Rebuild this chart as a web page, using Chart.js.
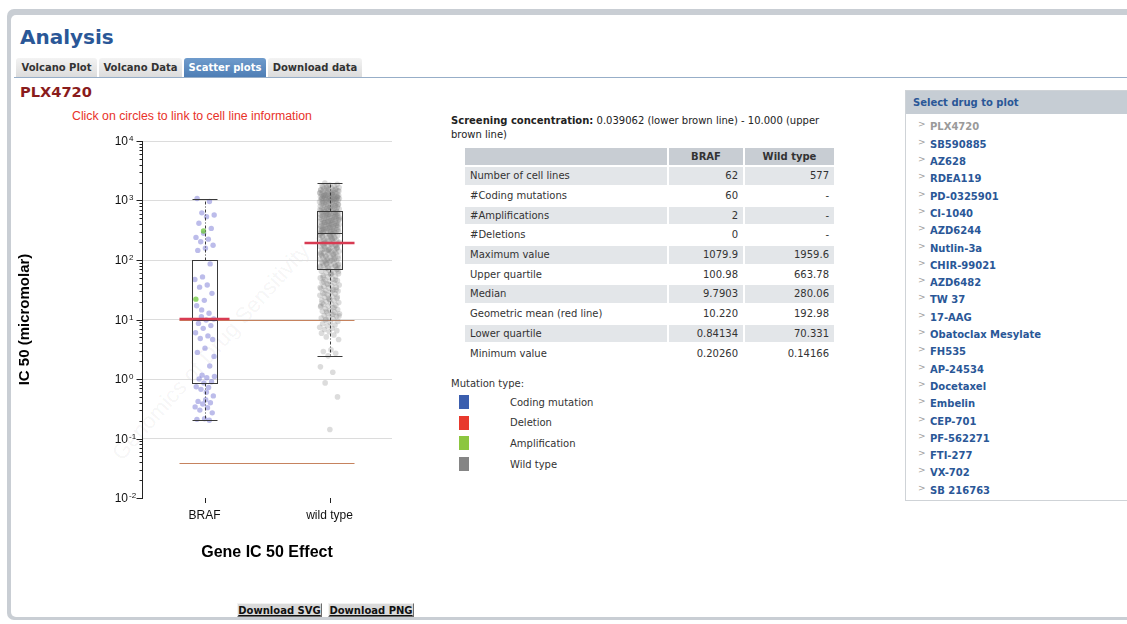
<!DOCTYPE html>
<html>
<head>
<meta charset="utf-8">
<title>PLX4720 - Scatter plots</title>
<script src="https://cdn.jsdelivr.net/npm/chart.js@4.4.1/dist/chart.umd.min.js"></script>
<style>
html,body{margin:0;padding:0;background:#fff;}
body{width:1127px;height:624px;overflow:hidden;position:relative;font-family:"DejaVu Sans",Verdana,sans-serif;color:#333;}
.a{position:absolute;white-space:nowrap;}
#frame{left:7px;top:9px;width:1160px;height:611px;background:#c9ced4;border-radius:7px;}
#panel{left:11px;top:15px;width:1160px;height:602px;background:#fff;border-radius:5px;}
#title{left:20px;top:25px;font-size:20px;line-height:24px;font-weight:bold;color:#2a5797;}
.tab{top:58px;height:19px;line-height:19px;font-size:10px;font-weight:bold;text-align:center;color:#333;background:linear-gradient(#f3f3f3,#dcdcdc);border-radius:3px 3px 0 0;}
.tab.on{background:linear-gradient(#6f9bcc,#4e7eb5);color:#fff;}
#tabline{left:14px;top:77px;width:1140px;height:1px;background:#97aec8;}
#drug{left:20px;top:83px;font-size:14.6px;line-height:18px;font-weight:bold;color:#8a1c1c;}
#hint{left:72px;top:109px;font-family:"Liberation Sans",Arial,sans-serif;font-size:12.3px;line-height:14px;color:#e8322a;}
#wm{left:211px;top:352px;transform:translate(-50%,-50%) rotate(-48deg);font-family:"Liberation Sans",Arial,sans-serif;font-size:22px;color:rgba(0,0,0,0.055);}
#chart{position:absolute;left:0;top:120px;width:440px;height:450px;}
#screen{left:451px;top:114px;width:372px;white-space:normal;font-size:10px;line-height:13.5px;color:#222;}
.cell{position:absolute;height:17.7px;line-height:17.7px;font-size:10px;color:#333;box-sizing:border-box;white-space:nowrap;overflow:hidden;}
.t{font-size:10px;line-height:13px;color:#333;}
.sq{position:absolute;width:10px;height:14px;}
#side{left:905px;top:90px;width:240px;height:409px;border:1px solid #cfd3d7;}
#sidehead{left:906px;top:91px;width:240px;height:23px;background:#c6cdd4;}
.drugitem{font-size:10px;line-height:13px;font-weight:bold;color:#2a5797;}
.chev{font-size:9px;line-height:13px;color:#a0a0a0;}
.btn{top:603px;height:14px;line-height:14px;font-size:10px;font-weight:bold;color:#111;text-decoration:underline;text-align:center;background:#dadada;box-sizing:border-box;border:1px solid;border-color:#f2f2f2 #6d6d6d #6d6d6d #f2f2f2;}
</style>
</head>
<body>
<div id="frame" class="a"></div>
<div id="panel" class="a"></div>
<div id="title" class="a">Analysis</div>
<div class="a tab" style="left:16px;width:81px;">Volcano Plot</div>
<div class="a tab" style="left:99px;width:83px;">Volcano Data</div>
<div class="a tab on" style="left:184px;width:82px;">Scatter plots</div>
<div class="a tab" style="left:268px;width:94px;">Download data</div>
<div id="tabline" class="a"></div>
<div id="drug" class="a">PLX4720</div>
<div id="hint" class="a">Click on circles to link to cell line information</div>
<div id="wm" class="a">Genomics of Drug Sensitivity</div>
<canvas id="chart" width="440" height="450"></canvas>

<div id="screen" class="a"><b>Screening concentration:</b> 0.039062 (lower brown line) - 10.000 (upper brown line)</div>
<div id="table"></div>

<div class="a t" style="left:451px;top:376.7px;">Mutation type:</div>
<div id="legend"></div>

<div id="side" class="a"></div>
<div id="sidehead" class="a"></div>
<div class="a drugitem" style="left:913px;top:95.7px;">Select drug to plot</div>
<div id="druglist"></div>

<div class="a btn" style="left:237px;width:85px;">Download SVG</div>
<div class="a btn" style="left:328px;width:86px;">Download PNG</div>

<script>
// ---------------- data ----------------
const CATEGORIES = ['BRAF', 'wild type'];

// BRAF: coding mutations (IC50, micromolar)
const BRAF_CODING = [1079.9, 960, 620, 570, 535, 415, 340, 282, 240, 224,
  203, 177, 158, 145, 86, 52, 47, 38, 35, 27.5,
  21, 17, 12.7, 11.1, 10.2, 9.8, 8.6, 7.9, 7.1, 6.0,
  5.3, 4.8, 4.6, 3.3, 2.8, 1.65, 1.16, 1.1, 1.05, 1.0,
  0.9, 0.86, 0.74, 0.72, 0.67, 0.52, 0.45, 0.42, 0.40, 0.38,
  0.34, 0.33, 0.30, 0.27, 0.215, 0.21, 0.2026, 14.5, 2.4, 0.6];
// BRAF: amplifications
const BRAF_AMPLIFICATION = [307, 22];

// wild type cell lines (estimated from the dense cloud)
const WILD_TYPE = [
  1959.6,1872,1815,1764,1742,1698,1655,1631,1587,1566,1549,1512,1487,1463,1452,1428,1396,1384,1361,1347,
  1322,1308,1297,1281,1266,1249,1238,1221,1204,1196,1183,1171,1158,1149,1137,1122,1114,1103,1096,1085,
  1077,1069,1058,1051,1044,1036,1029,1018,1011,1004,1702,1534,1415,1333,1257,1212,1166,1129,1091,1063,
  1616,1441,1289,1190,1047,1738,1502,1372,1245,1153,
  996,981,972,958,947,933,921,909,897,884,872,861,853,842,831,819,808,797,786,774,
  765,756,744,736,727,718,709,701,692,684,677,668,940,860,770,915,826,752,698,988,
  659,651,643,636,628,619,612,604,597,589,581,574,566,559,552,545,538,531,524,517,
  511,504,498,491,485,479,472,466,460,454,448,443,437,431,426,420,415,409,404,399,
  394,389,384,379,374,369,364,360,355,351,346,342,337,333,329,325,321,317,313,309,
  305,301,297,294,290,287,283,281,640,610,585,560,530,505,480,455,430,410,390,372,
  356,338,322,306,292,625,575,520,470,425,385,350,318,296,600,495,400,330,550,440,
  278,272,266,259,253,247,241,236,230,225,219,214,209,204,199,195,190,186,181,177,
  173,169,165,161,157,154,150,147,143,140,137,133,130,127,124,121,118,116,113,110,
  108,105,103,100,98,96,93,91,89,87,85,83,81,79,77,76,74,72,71,270,
  250,232,215,198,183,170,158,146,135,125,115,106,97,88,80,73,262,228,192,163,
  139,119,101,86,75,244,206,175,149,128,111,94,82,256,187,134,99,78,211,152,
  69,67,65,63,61,59,57,55,53,52,50,48,47,45,44,42,41,40,38,37,
  36,35,34,33,32,31,30,29,28,27,26,25.5,24.5,23.5,22.8,22,21.3,20.6,20,19.3,
  18.7,18,17.4,16.8,16.3,15.7,15.2,14.7,14.2,13.8,13.3,12.9,12.5,12.1,11.7,11.3,10.9,10.6,10.3,10.1,
  64,58,51,46,39,34.5,30.5,27.5,24,21.5,19,16,13.6,11.5,60,43,31.5,23,17,12.3,
  9.7,9.3,8.9,8.5,8.1,7.8,7.4,7.1,6.8,6.5,6.2,5.9,5.5,5.1,4.6,3.1,2.9,2.7,2.45,1.6,
  1.3,0.86,0.5,0.14166];

// box statistics per category
const BOX_Q1 = [0.84134, 70.331];
const BOX_MEDIAN = [9.7903, 280.06];
const BOX_Q3 = [100.98, 663.78];
const GEO_MEAN = [10.220, 192.98];
// screening concentration (brown lines)
const SCREEN_CONC = [0.039062, 10.000];

// y axis ticks
const Y_TICKS = [0.01, 0.1, 1, 10, 100, 1000, 10000];
const Y_TICK_EXP = ['-2', '-1', '0', '1', '2', '3', '4'];

// table
const TABLE_HEAD = ['', 'BRAF', 'Wild type'];
const TABLE_ROWS = [
  ['Number of cell lines', '62', '577'],
  ['#Coding mutations', '60', '-'],
  ['#Amplifications', '2', '-'],
  ['#Deletions', '0', '-'],
  ['Maximum value', '1079.9', '1959.6'],
  ['Upper quartile', '100.98', '663.78'],
  ['Median', '9.7903', '280.06'],
  ['Geometric mean (red line)', '10.220', '192.98'],
  ['Lower quartile', '0.84134', '70.331'],
  ['Minimum value', '0.20260', '0.14166']
];
const LEGEND_LABELS = ['Coding mutation', 'Deletion', 'Amplification', 'Wild type'];
const LEGEND_COLORS = ['#3b5eae', '#e8392d', '#8cc640', '#858585'];
const DRUGS = ['PLX4720','SB590885','AZ628','RDEA119','PD-0325901','CI-1040','AZD6244','Nutlin-3a',
  'CHIR-99021','AZD6482','TW 37','17-AAG','Obatoclax Mesylate','FH535','AP-24534','Docetaxel',
  'Embelin','CEP-701','PF-562271','FTI-277','VX-702','SB 216763'];

// ---------------- HTML parts ----------------
(function () {
  const tbl = document.getElementById('table');
  const colL = [465, 669, 745], colW = [202, 74, 89];
  const rows = [TABLE_HEAD].concat(TABLE_ROWS);
  rows.forEach((r, k) => {
    const top = 147.5 + k * 19.7;
    const bg = k === 0 ? '#c8cdd3' : (k % 2 === 1 ? '#e3e6e9' : '#ffffff');
    r.forEach((txt, c) => {
      const d = document.createElement('div');
      d.className = 'cell';
      d.style.left = colL[c] + 'px';
      d.style.top = top + 'px';
      d.style.width = colW[c] + 'px';
      d.style.background = bg;
      if (k === 0) { d.style.textAlign = 'center'; d.style.fontWeight = 'bold'; }
      else if (c === 0) { d.style.paddingLeft = '5px'; }
      else { d.style.textAlign = 'right'; d.style.paddingRight = '5px'; }
      d.textContent = txt;
      tbl.appendChild(d);
    });
  });
  const lg = document.getElementById('legend');
  LEGEND_LABELS.forEach((lab, k) => {
    const top = 395 + k * 20.6;
    const s = document.createElement('div');
    s.className = 'sq';
    s.style.left = '459px'; s.style.top = top + 'px'; s.style.background = LEGEND_COLORS[k];
    lg.appendChild(s);
    const t = document.createElement('div');
    t.className = 'a t';
    t.style.left = '510px'; t.style.top = (top + 0.7) + 'px';
    t.textContent = lab;
    lg.appendChild(t);
  });
  const dl = document.getElementById('druglist');
  DRUGS.forEach((name, k) => {
    const top = 120.4 + k * 17.3;
    const c = document.createElement('div');
    c.className = 'a chev';
    c.style.left = '918px'; c.style.top = (top - 2) + 'px';
    c.textContent = '>';
    dl.appendChild(c);
    const t = document.createElement('div');
    t.className = 'a drugitem';
    t.style.left = '930px'; t.style.top = top + 'px';
    if (k === 0) t.style.color = '#9a9a9a';
    t.textContent = name;
    dl.appendChild(t);
  });
})();

// ---------------- chart ----------------
const JIT = 0.08;
function jitter(cat, i, off) {
  return cat + (((i * 0.6180339887 + off) % 1) - 0.5) * 2 * JIT;
}
function whiskers(vals, q1, q3) {
  const l1 = Math.log10(q1), l3 = Math.log10(q3), iqr = l3 - l1;
  const lo = Math.pow(10, l1 - 1.5 * iqr), hi = Math.pow(10, l3 + 1.5 * iqr);
  const inside = vals.filter(v => v >= lo && v <= hi);
  return { lo: Math.min.apply(null, inside), hi: Math.max.apply(null, inside) };
}

const overlay = {
  id: 'overlay',
  beforeDatasetsDraw(chart) {
    const { ctx, scales: { x, y } } = chart;
    ctx.save();
    ctx.strokeStyle = 'rgba(192,118,76,0.9)';
    ctx.lineWidth = 1.2;
    SCREEN_CONC.forEach(v => {
      const py = Math.round(y.getPixelForValue(v)) + 0.5;
      ctx.beginPath();
      ctx.moveTo(x.getPixelForValue(-0.2), py);
      ctx.lineTo(x.getPixelForValue(1.2), py);
      ctx.stroke();
    });
    ctx.restore();
  },
  afterDatasetsDraw(chart) {
    const { ctx, chartArea, scales: { x, y } } = chart;
    const snap = v => Math.round(v) + 0.5;
    const line = (x1, y1, x2, y2) => { ctx.beginPath(); ctx.moveTo(x1, y1); ctx.lineTo(x2, y2); ctx.stroke(); };
    ctx.save();
    CATEGORIES.forEach((c, i) => {
      const vals = i === 0 ? BRAF_CODING.concat(BRAF_AMPLIFICATION) : WILD_TYPE;
      const w = whiskers(vals, BOX_Q1[i], BOX_Q3[i]);
      const cx = snap(x.getPixelForValue(i));
      const xl = snap(x.getPixelForValue(i - 0.1)), xr = snap(x.getPixelForValue(i + 0.1));
      const yq1 = snap(y.getPixelForValue(BOX_Q1[i])), yq3 = snap(y.getPixelForValue(BOX_Q3[i]));
      const ymed = snap(y.getPixelForValue(BOX_MEDIAN[i]));
      const ylo = snap(y.getPixelForValue(w.lo)), yhi = snap(y.getPixelForValue(w.hi));
      ctx.strokeStyle = '#3a3a3a';
      ctx.lineWidth = 1;
      ctx.setLineDash([3, 2, 1, 2]);
      line(cx, yq3, cx, yhi);
      line(cx, yq1, cx, ylo);
      ctx.setLineDash([]);
      line(xl, yhi, xr, yhi);
      line(xl, ylo, xr, ylo);
      ctx.strokeRect(xl, yq3, xr - xl, yq1 - yq3);
      line(xl, ymed, xr, ymed);
      ctx.strokeStyle = '#d83b52';
      ctx.lineWidth = 2.4;
      const yg = y.getPixelForValue(GEO_MEAN[i]);
      line(x.getPixelForValue(i - 0.2), yg, x.getPixelForValue(i + 0.2), yg);
    });
    // y ticks (major + minor) and labels
    const ax = chartArea.left + 0.5;
    ctx.strokeStyle = '#222';
    ctx.lineWidth = 1;
    Y_TICKS.forEach((v, k) => {
      const py = snap(y.getPixelForValue(v));
      line(ax - 6, py, ax, py);
      if (k < Y_TICKS.length - 1) {
        for (let m = 2; m <= 9; m++) {
          const pm = snap(y.getPixelForValue(v * m));
          line(ax - 3, pm, ax, pm);
        }
      }
      ctx.fillStyle = '#111';
      ctx.textBaseline = 'middle';
      ctx.textAlign = 'right';
      ctx.font = '12px "Liberation Sans", Arial, sans-serif';
      ctx.fillText('10', chartArea.left - 14, py + 0.5);
      ctx.textAlign = 'left';
      ctx.font = '8px "Liberation Sans", Arial, sans-serif';
      ctx.fillText(Y_TICK_EXP[k], chartArea.left - 13, py - 3);
    });
    // x ticks
    CATEGORIES.forEach((c, i) => {
      const px = snap(x.getPixelForValue(i));
      line(px, chartArea.bottom, px, chartArea.bottom + 5);
    });
    ctx.restore();
  }
};

const pts = (arr, cat, off) => arr.map((v, i) => ({ x: jitter(cat, i, off), y: v }));

new Chart(document.getElementById('chart'), {
  type: 'scatter',
  data: {
    datasets: [
      { label: 'Amplification', data: pts(BRAF_AMPLIFICATION, 0, 0.45), backgroundColor: 'rgba(110,200,60,0.75)', pointRadius: 2.7, borderWidth: 0 },
      { label: 'Coding mutation', data: pts(BRAF_CODING, 0, 0.13), backgroundColor: 'rgba(95,95,205,0.42)', pointRadius: 2.7, borderWidth: 0 },
      { label: 'Wild type', data: pts(WILD_TYPE, 1, 0.27), backgroundColor: 'rgba(128,128,128,0.28)', pointRadius: 2.8, borderWidth: 0 }
    ]
  },
  options: {
    responsive: false,
    animation: false,
    events: [],
    layout: { padding: { top: 21, right: 48, bottom: 0, left: 0 } },
    plugins: { legend: { display: false }, tooltip: { enabled: false } },
    scales: {
      x: {
        type: 'linear', min: -0.5, max: 1.5,
        afterBuildTicks: s => { s.ticks = CATEGORIES.map((c, i) => ({ value: i })); },
        afterFit: s => { s.height = 72; },
        grid: { display: false, drawTicks: false },
        border: { display: false },
        ticks: {
          autoSkip: false, maxRotation: 0, padding: 10, color: '#111',
          font: { family: '"Liberation Sans", Arial, sans-serif', size: 12 },
          callback: v => CATEGORIES[v]
        },
        title: {
          display: true, text: 'Gene IC 50 Effect', color: '#000',
          font: { family: '"Liberation Sans", Arial, sans-serif', size: 16, weight: 'bold' },
          padding: { top: 0, bottom: 8 }
        }
      },
      y: {
        type: 'logarithmic', min: 0.01, max: 10000,
        afterBuildTicks: s => { s.ticks = Y_TICKS.map(v => ({ value: v })); },
        afterFit: s => { s.width = 142; },
        grid: { drawTicks: false, color: c => (c.index === 0 ? 'rgba(0,0,0,0)' : '#dcdcdc'), lineWidth: 1 },
        border: { display: true, color: '#222', width: 1 },
        ticks: { display: false },
        title: {
          display: true, text: 'IC 50 (micromolar)', color: '#000',
          font: { family: '"Liberation Sans", Arial, sans-serif', size: 15, weight: 'bold' },
          padding: { top: 16, bottom: 0 }
        }
      }
    }
  },
  plugins: [overlay]
});
</script>
</body>
</html>
